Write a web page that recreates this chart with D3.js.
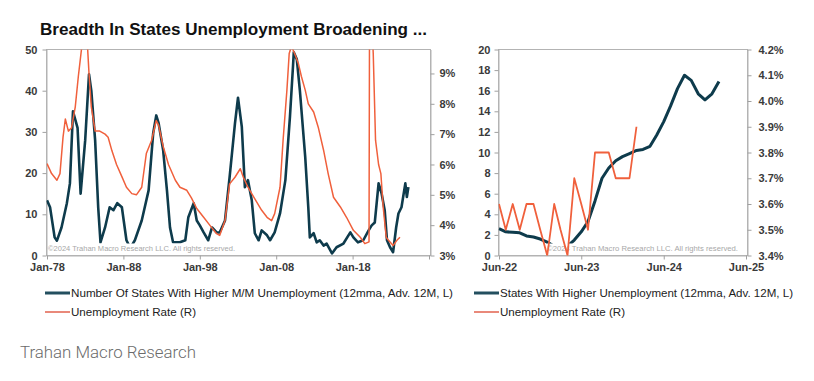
<!DOCTYPE html>
<html>
<head>
<meta charset="utf-8">
<script src="https://cdn.jsdelivr.net/npm/d3@7"></script>
<style>
body { margin: 0; background: #fff; }
svg { display: block; font-family: "Liberation Sans", Arial, sans-serif; }
</style>
</head>
<body>
<svg id="chart" width="814" height="381"></svg>
<script>
// left panel: long history (decimal years)
var histBlueYears = [1978.0, 1978.4, 1979.0, 1979.3, 1979.9, 1980.6, 1981.0, 1981.4, 1982.0, 1982.4, 1983.0, 1983.5, 1983.8, 1984.3, 1984.7, 1985.0, 1985.6, 1986.2, 1986.7, 1987.2, 1987.8, 1988.4, 1988.9, 1989.5, 1990.4, 1991.3, 1991.9, 1992.3, 1992.6, 1993.2, 1993.7, 1994.1, 1994.5, 1995.4, 1996.1, 1996.5, 1997.2, 1997.6, 1998.0, 1998.5, 1999.1, 1999.6, 2000.2, 2000.6, 2001.3, 2001.9, 2002.6, 2003.0, 2003.5, 2003.9, 2004.3, 2004.8, 2005.2, 2005.7, 2006.1, 2006.8, 2007.2, 2007.8, 2008.5, 2009.2, 2009.8, 2010.2, 2010.3, 2010.7, 2011.1, 2011.8, 2012.2, 2012.4, 2012.9, 2013.3, 2013.7, 2014.2, 2014.6, 2015.3, 2015.9, 2016.8, 2017.7, 2018.1, 2018.7, 2019.4, 2020.1, 2020.5, 2020.9, 2021.4, 2021.8, 2022.2, 2022.5, 2022.9, 2023.3, 2023.7, 2024.0, 2024.4, 2024.9, 2025.1, 2025.3];
var histBlueValues = [13.4, 11.7, 4.4, 3.6, 6.8, 12.7, 17.5, 35, 31, 15, 28, 44, 40, 28, 11.7, 3.2, 6.8, 11.7, 11, 12.7, 11.7, 3.7, 1.8, 3.7, 8.5, 15.8, 29.7, 34, 32.2, 25.6, 15.8, 6.8, 3.2, 3.2, 3.7, 9.3, 12.7, 8.5, 7.3, 5.6, 3.7, 6.8, 5.6, 5.6, 8.5, 19, 32, 38.3, 31.2, 16.6, 18.3, 13.4, 5.4, 3.7, 6.1, 4.9, 3.7, 5.6, 10.2, 18.3, 33.7, 46, 49.3, 47.6, 40, 23.9, 11.7, 4.4, 5.4, 3.2, 3.7, 2.4, 2.9, 0.5, 2, 2.9, 5.6, 4.4, 3.2, 3.7, 6.1, 7.3, 8, 17.5, 15, 11, 3.7, 2, 0.8, 6.8, 10.2, 11.7, 17.5, 14.2, 16.6];

var histRedYears = [1978.0, 1978.6, 1979.3, 1979.7, 1980.1, 1980.4, 1980.8, 1981.2, 1981.7, 1982.1, 1982.5, 1982.9, 1983.3, 1983.5, 1983.8, 1984.3, 1984.9, 1985.6, 1986.0, 1986.5, 1987.1, 1987.8, 1988.4, 1989.1, 1989.7, 1990.4, 1991.0, 1991.7, 1992.3, 1992.6, 1993.2, 1993.9, 1994.8, 1995.4, 1996.3, 1996.9, 1997.6, 1998.5, 1999.3, 2000.2, 2000.6, 2001.3, 2001.9, 2002.6, 2003.3, 2003.7, 2004.3, 2005.2, 2006.1, 2006.8, 2007.4, 2007.8, 2008.5, 2008.9, 2009.4, 2009.7, 2010.0, 2010.5, 2010.9, 2011.3, 2011.8, 2012.2, 2012.9, 2013.5, 2014.2, 2014.8, 2015.5, 2016.4, 2017.2, 2018.1, 2019.0, 2019.6, 2020.15, 2020.25, 2020.45, 2020.7, 2021.0, 2021.4, 2021.7, 2022.0, 2022.4, 2022.7, 2023.3, 2023.8, 2024.2];
var histRedValues = [6.03, 5.7, 5.48, 5.7, 6.9, 7.5, 7.1, 7.2, 7.9, 8.9, 9.77, 10.8, 9.9, 9.0, 7.9, 7.1, 7.1, 7.0, 6.9, 6.45, 6.0, 5.6, 5.25, 5.04, 5.0, 5.25, 6.36, 6.8, 7.45, 7.3, 6.6, 6.0, 5.48, 5.25, 5.15, 4.9, 4.55, 4.26, 4.0, 3.72, 3.66, 4.15, 5.36, 5.58, 5.86, 5.58, 5.25, 4.87, 4.49, 4.26, 4.15, 4.38, 5.25, 6.8, 8.45, 9.66, 9.9, 9.6, 9.33, 8.9, 8.45, 8.0, 7.73, 7.23, 6.47, 5.7, 4.92, 4.6, 4.26, 3.83, 3.6, 3.39, 3.45, 14.7, 11.0, 9.66, 6.8, 6.0, 5.7, 4.6, 3.6, 3.5, 3.33, 3.5, 3.6];

// right panel: recent months
var recentBlueMonths = ['2022-06', '2022-07', '2022-08', '2022-09', '2022-10', '2022-11', '2022-12', '2023-01', '2023-02', '2023-03', '2023-04', '2023-05', '2023-06', '2023-07', '2023-08', '2023-09', '2023-10', '2023-11', '2023-12', '2024-01', '2024-02', '2024-03', '2024-04', '2024-05', '2024-06', '2024-07', '2024-08', '2024-09', '2024-10', '2024-11', '2024-12', '2025-01', '2025-02'];
var recentBlueValues = [2.6, 2.3, 2.25, 2.2, 1.9, 1.8, 1.6, 1.3, 0.9, 0.8, 0.9, 1.5, 2.3, 3.3, 5.3, 7.5, 8.5, 9.2, 9.6, 9.9, 10.2, 10.3, 10.6, 11.7, 13.0, 14.5, 16.2, 17.5, 17.0, 15.7, 15.1, 15.7, 16.9];
var recentRedMonths = recentBlueMonths.slice(0, 21);
var recentRedValues = [3.6, 3.5, 3.6, 3.5, 3.6, 3.6, 3.5, 3.4, 3.6, 3.5, 3.4, 3.7, 3.6, 3.5, 3.8, 3.8, 3.8, 3.7, 3.7, 3.7, 3.9];

var histXTicks = [1978, 1988, 1998, 2008, 2018, 2028];
var histLeftTicks = [0, 10, 20, 30, 40, 50];
var histRightTicks = [3, 4, 5, 6, 7, 8, 9];
var recentXTicks = ['2022-06', '2023-06', '2024-06', '2025-06'];
var recentLeftTicks = [0, 2, 4, 6, 8, 10, 12, 14, 16, 18, 20];
var recentRightTicks = [3.4, 3.5, 3.6, 3.7, 3.8, 3.9, 4.0, 4.1, 4.2];

var titleText = 'Breadth In States Unemployment Broadening ...';
var histLegend = ['Number Of States With Higher M/M Unemployment  (12mma, Adv. 12M, L)', 'Unemployment Rate (R)'];
var recentLegend = ['States With Higher Unemployment (12mma, Adv. 12M, L)', 'Unemployment Rate (R)'];
var watermarkText = '\u00a92024 Trahan Macro Research LLC. All rights reserved.';
var sourceText = 'Trahan Macro Research';

var BLUE = '#0e3b4c', RED = '#f0603c';
var svg = d3.select('#chart');
var parseMonth = d3.timeParse('%Y-%m');

function yearToDate(y) {
    var yr = Math.floor(y);
    var a = new Date(yr, 0, 1), b = new Date(yr + 1, 0, 1);
    return new Date(+a + (y - yr) * (b - a));
}

function drawPanel(p) {
    var g = svg.append('g');
    var clipId = 'clip' + p.id;
    svg.append('clipPath').attr('id', clipId).append('rect')
        .attr('x', p.left).attr('y', p.top)
        .attr('width', p.right - p.left).attr('height', p.bottom - p.top);

    g.append('rect')
        .attr('x', p.left).attr('y', p.top)
        .attr('width', p.right - p.left).attr('height', p.bottom - p.top)
        .attr('fill', 'none').attr('stroke', '#b3b3b3').attr('stroke-width', 1);

    var axisL = g.append('g').attr('transform', 'translate(' + p.left + ',0)')
        .call(d3.axisLeft(p.yL).tickValues(p.leftTicks).tickSize(4).tickSizeOuter(0).tickPadding(p.padL).tickFormat(p.fmtL));
    var axisR = g.append('g').attr('transform', 'translate(' + p.right + ',0)')
        .call(d3.axisRight(p.yR).tickValues(p.rightTicks).tickSize(4).tickSizeOuter(0).tickPadding(p.padR).tickFormat(p.fmtR));
    var axisB = g.append('g').attr('transform', 'translate(0,' + p.bottom + ')')
        .call(d3.axisBottom(p.x).tickValues(p.xTicks).tickSize(4).tickSizeOuter(0).tickPadding(4).tickFormat(p.fmtX));
    [axisL, axisR, axisB].forEach(function(a) {
        a.select('.domain').attr('stroke', '#b3b3b3');
        a.selectAll('.tick line').attr('stroke', '#a0a0a0');
        a.selectAll('text').attr('fill', '#3a3a3a').attr('font-size', '11px').attr('font-weight', 'bold')
            .attr('font-family', '"Liberation Sans", Arial, sans-serif');
    });

    var lineBlue = d3.line().x(function(d) { return p.x(d[0]); }).y(function(d) { return p.yL(d[1]); });
    var lineRed = d3.line().x(function(d) { return p.x(d[0]); }).y(function(d) { return p.yR(d[1]); });

    g.append('path').datum(p.blue).attr('clip-path', 'url(#' + clipId + ')')
        .attr('d', lineBlue).attr('fill', 'none').attr('stroke', BLUE)
        .attr('stroke-width', p.blueWidth).attr('stroke-linejoin', 'round');

    // watermark box hides whatever dips under it
    var wm = g.append('text').text(watermarkText)
        .attr('x', p.wmX).attr('y', p.bottom - 5)
        .attr('font-size', '7.6px').attr('fill', '#a8a8a8')
        .attr('textLength', p.wmW).attr('lengthAdjust', 'spacingAndGlyphs');
    g.insert('rect', function() { return wm.node(); })
        .attr('x', p.wmX).attr('y', p.bottom - 12)
        .attr('width', p.wmW).attr('height', 10).attr('fill', '#fff');

    g.append('path').datum(p.red).attr('clip-path', 'url(#' + clipId + ')')
        .attr('d', lineRed).attr('fill', 'none').attr('stroke', RED)
        .attr('stroke-width', p.redWidth).attr('stroke-linejoin', 'round');

    // legend
    var lg = g.append('g');
    var rows = [{c: '#234f5f', w: 3, t: p.legend[0], y: 293, len: p.legLen[0]},
                {c: '#e9897a', w: 2, t: p.legend[1], y: 312, len: p.legLen[1]}];
    rows.forEach(function(r) {
        lg.append('line').attr('x1', p.legX).attr('x2', p.legX + 25)
            .attr('y1', r.y).attr('y2', r.y).attr('stroke', r.c).attr('stroke-width', r.w);
        lg.append('text').text(r.t).attr('x', p.legX + 26).attr('y', r.y + 4)
            .attr('font-size', '11px').attr('fill', '#222')
            .attr('textLength', r.len).attr('lengthAdjust', 'spacingAndGlyphs');
    });
}

var histX = d3.scaleTime().domain([yearToDate(1978), yearToDate(2028)]).range([47, 429]);
drawPanel({
    id: 'hist', left: 46.5, right: 430.5, top: 49.5, bottom: 255.5,
    x: histX,
    yL: d3.scaleLinear().domain([0, 50]).range([255.5, 49.5]),
    yR: d3.scaleLinear().domain([3, 9.79]).range([255.5, 49.5]),
    xTicks: histXTicks.map(yearToDate),
    leftTicks: histLeftTicks, rightTicks: histRightTicks,
    fmtL: function(d) { return d; },
    fmtR: function(d) { return d + '%'; },
    fmtX: function(d) { return d.getFullYear() === 2028 ? '' : d3.timeFormat('%b-%y')(d); },
    padL: 5, padR: 5,
    blue: histBlueYears.map(function(y, i) { return [yearToDate(y), histBlueValues[i]]; }),
    red: histRedYears.map(function(y, i) { return [yearToDate(y), histRedValues[i]]; }),
    blueWidth: 2.6, redWidth: 1.5,
    wmX: 48, wmW: 187,
    legend: histLegend, legX: 45, legLen: [382, 125]
});

drawPanel({
    id: 'recent', left: 498.5, right: 747.5, top: 49.5, bottom: 255.5,
    x: d3.scaleTime().domain([parseMonth('2022-06'), parseMonth('2025-06')]).range([499, 746]),
    yL: d3.scaleLinear().domain([0, 20]).range([255.5, 49.5]),
    yR: d3.scaleLinear().domain([3.4, 4.2]).range([255.5, 49.5]),
    xTicks: recentXTicks.map(parseMonth),
    leftTicks: recentLeftTicks, rightTicks: recentRightTicks,
    fmtL: function(d) { return d; },
    fmtR: function(d) { return d.toFixed(1) + '%'; },
    fmtX: d3.timeFormat('%b-%y'),
    padL: 4, padR: 7,
    blue: recentBlueMonths.map(function(m, i) { return [parseMonth(m), recentBlueValues[i]]; }),
    red: recentRedMonths.map(function(m, i) { return [parseMonth(m), recentRedValues[i]]; }),
    blueWidth: 3, redWidth: 1.8,
    wmX: 547, wmW: 191,
    legend: recentLegend, legX: 474, legLen: [293, 125]
});

svg.append('text').text(titleText)
    .attr('x', 40).attr('y', 35)
    .attr('font-size', '16px').attr('font-weight', 'bold').attr('fill', '#111')
    .attr('textLength', 387).attr('lengthAdjust', 'spacingAndGlyphs');

svg.append('text').text(sourceText)
    .attr('x', 20).attr('y', 358)
    .attr('font-family', 'Roboto, "Liberation Sans", sans-serif').attr('font-weight', 300)
    .attr('font-size', '16px').attr('fill', '#6b6b6b')
    .attr('textLength', 176).attr('lengthAdjust', 'spacingAndGlyphs');
</script>
</body>
</html>
